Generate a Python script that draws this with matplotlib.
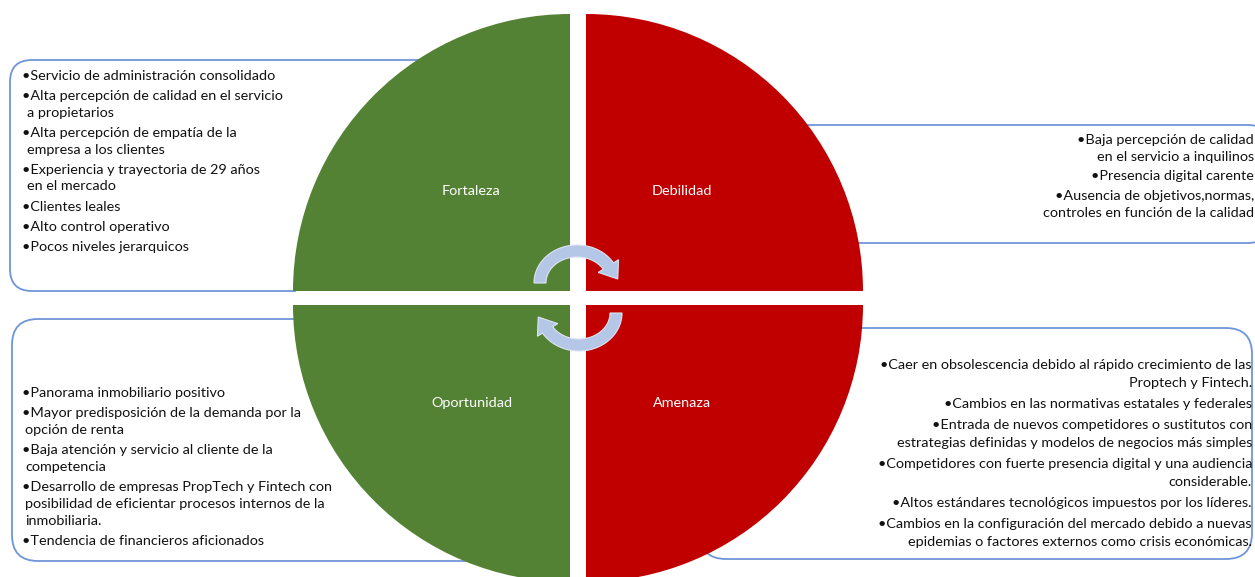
import numpy as np
import matplotlib.pyplot as plt
from matplotlib.patches import Wedge, FancyBboxPatch, Polygon, Rectangle

# quadrant labels and their bullet lists (each item may wrap into several lines)
labels = ['Fortaleza', 'Debilidad', 'Oportunidad', 'Amenaza']
fortaleza = [
    'Servicio de administración consolidado',
    'Alta percepción de calidad en el servicio\na propietarios',
    'Alta percepción de empatía de la\nempresa a los clientes',
    'Experiencia y trayectoria de 29 años\nen el mercado',
    'Clientes leales',
    'Alto control operativo',
    'Pocos niveles jerarquicos',
]
debilidad = [
    'Baja percepción de calidad\nen el servicio a inquilinos',
    'Presencia digital carente',
    'Ausencia de objetivos,normas,\ncontroles en función de la calidad',
]
oportunidad = [
    'Panorama inmobiliario positivo',
    'Mayor predisposición de la demanda por la\nopción de renta',
    'Baja atención y servicio al cliente de la\ncompetencia',
    'Desarrollo de empresas PropTech y Fintech con\nposibilidad de eficientar procesos internos de la\ninmobiliaria.',
    'Tendencia de financieros aficionados',
]
amenaza = [
    'Caer en obsolescencia debido al rápido crecimiento de las\nProptech y Fintech.',
    'Cambios en las normativas estatales y federales',
    'Entrada de nuevos competidores o sustitutos con\nestrategias definidas y modelos de negocios más simples',
    'Competidores con fuerte presencia digital y una audiencia\nconsiderable.',
    'Altos estándares tecnológicos impuestos por los líderes.',
    'Cambios en la configuración del mercado debido a nuevas\nepidemias o factores externos como crisis económicas.',
]

plt.rcParams['font.family'] = ['Lato', 'DejaVu Sans']
GREEN = '#548235'
RED = '#C00000'
BLUE = '#6F95D9'
ARROW = '#B4C7E7'
FS = 10.4

fig = plt.figure(figsize=(12.55, 5.77), dpi=100)
ax = fig.add_axes([0, 0, 1, 1])
ax.set_xlim(0, 1255)
ax.set_ylim(577, 0)
ax.axis('off')

# rounded boxes behind the circle
boxes = [(10, 60, 500, 231, 22), (700, 125, 570, 118, 22),
         (12, 319, 500, 242, 26), (700, 328, 552, 231, 26)]
for x, y, w, h, rad in boxes:
    ax.add_patch(FancyBboxPatch((x, y), w, h, boxstyle=f'round,pad=0,rounding_size={rad}',
                                fc='white', ec=BLUE, lw=1.3, zorder=1))
# white gap between the upper and lower halves
ax.add_patch(Rectangle((296, 290.3), 564, 14.5, fc='white', ec='none', zorder=1.5))

# the four quadrants of the circle
r = 277
quads = [((570, 291), 180, 270, GREEN), ((586, 291), 270, 360, RED),
         ((570, 305), 90, 180, GREEN), ((586, 305), 0, 90, RED)]
for c, t1, t2, col in quads:
    ax.add_patch(Wedge(c, r, t1, t2, fc=col, ec='none', zorder=2))

label_pos = [(471, 191), (682, 191), (472, 403), (682, 403)]
for lab, (x, y) in zip(labels, label_pos):
    ax.text(x, y, lab, color='white', fontsize=FS, ha='center', va='center', zorder=5)


# circular arrows
def arrow_poly(cx, cy, rx, ry, t0, t1, hw=6, head=12, hl=16):
    t = np.radians(np.linspace(t0, t1, 60))
    outer = [(cx + (rx + hw) * np.cos(a), cy - (ry + hw) * np.sin(a)) for a in t]
    inner = [(cx + (rx - hw) * np.cos(a), cy - (ry - hw) * np.sin(a)) for a in t[::-1]]
    a = t[-1]
    p = np.array([cx + rx * np.cos(a), cy - ry * np.sin(a)])
    tan = np.array([rx * np.sin(a), ry * np.cos(a)]) * np.sign(t0 - t1)
    tan = tan / np.hypot(*tan)
    base_out = np.array([cx + np.cos(a) * (rx + head), cy - np.sin(a) * (ry + head)])
    base_in = np.array([cx + np.cos(a) * (rx - head), cy - np.sin(a) * (ry - head)])
    tip = p + hl * tan
    return outer + [tuple(base_out), tuple(tip), tuple(base_in)] + inner


ax.add_patch(Polygon(arrow_poly(577, 283, 37, 32, 180, 32), closed=True,
                     fc=ARROW, ec='#DCE4F2', lw=0.8, zorder=4))
ax.add_patch(Polygon(arrow_poly(579, 313, 37, 32, 0, -148), closed=True,
                     fc=ARROW, ec='#DCE4F2', lw=0.8, zorder=4))


def bullets(items, x, y0, step, gap, ha, indent=0):
    y = y0
    for item in items:
        lines = item.split('\n')
        for i, ln in enumerate(lines):
            txt = '•' + ln if i == 0 else ln
            dx = indent if (i > 0 and ha == 'left') else 0
            ax.text(x + dx, y, txt, fontsize=FS, ha=ha, va='center', color='#111111', zorder=6)
            y += step if i < len(lines) - 1 else 0
        y += gap


bullets(fortaleza, 22, 76, 16.5, 20.3, 'left', indent=5)
bullets(debilidad, 1254, 140, 17, 19.5, 'right')
bullets(oportunidad, 22, 393, 17, 20, 'left', indent=3)
bullets(amenaza, 1252, 365, 18, 21, 'right')

fig.savefig('out.png', dpi=100)
